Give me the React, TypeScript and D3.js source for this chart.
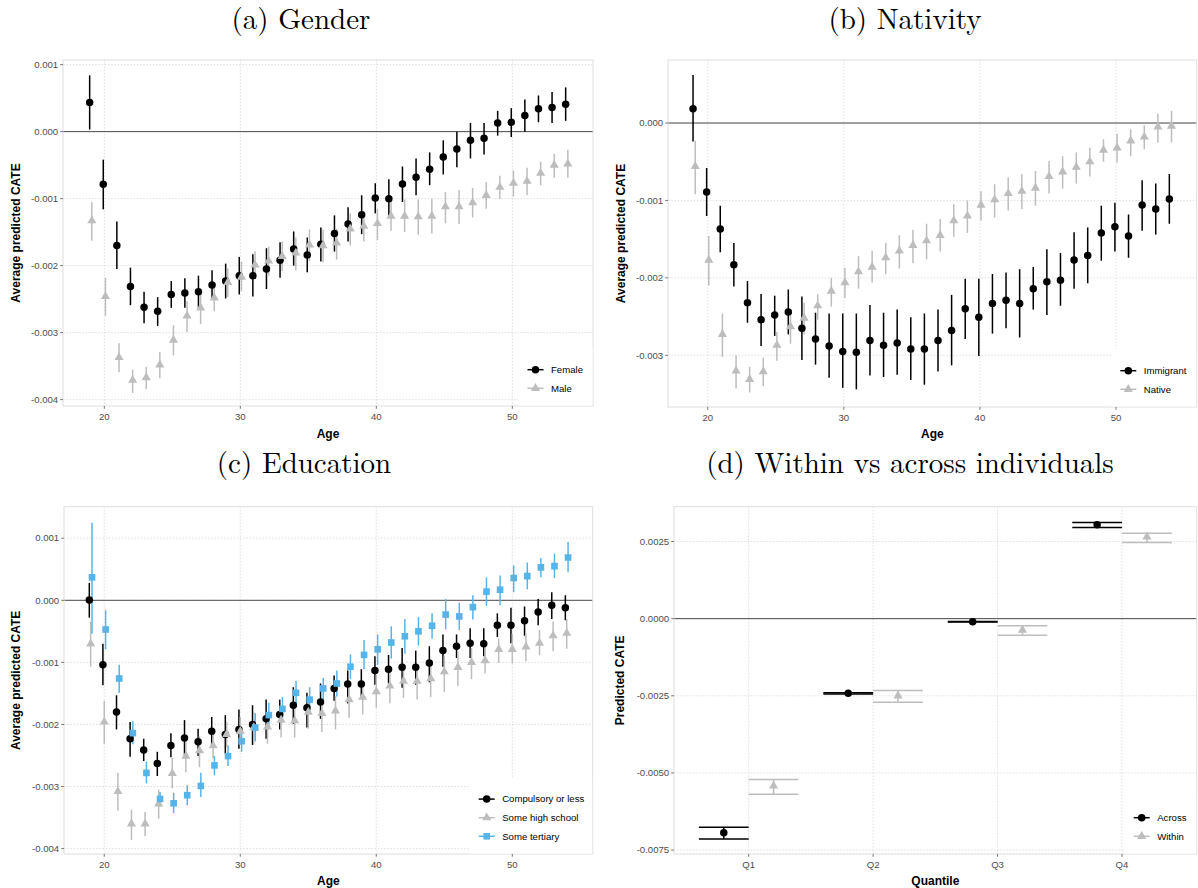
import React from 'react';
import * as d3 from 'd3';

// ---------- DATA ----------
const ages = [19, 20, 21, 22, 23, 24, 25, 26, 27, 28, 29, 30, 31, 32, 33, 34, 35, 36, 37, 38, 39, 40, 41, 42, 43, 44, 45, 46, 47, 48, 49, 50, 51, 52, 53, 54];

// (a) Gender
const femaleEst = [0.000433, -0.000786, -0.0017, -0.00231, -0.00262, -0.00268, -0.00243, -0.00241, -0.00239, -0.00229, -0.00223, -0.00215, -0.00215, -0.00205, -0.00192, -0.00175, -0.00184, -0.00168, -0.00152, -0.00138, -0.00124, -0.00099, -0.001, -0.00078, -0.00068, -0.00056, -0.00038, -0.00026, -0.00013, -0.0001, 0.00013, 0.00014, 0.00024, 0.00034, 0.00036, 0.00041];
const femaleHi = [0.00084, -0.000418, -0.00134, -0.00203, -0.00239, -0.00247, -0.00223, -0.00219, -0.00215, -0.00207, -0.00197, -0.00187, -0.00183, -0.00174, -0.00165, -0.00149, -0.00158, -0.00143, -0.00125, -0.00113, -0.00095, -0.00077, -0.00071, -0.00052, -0.0004, -0.00031, -0.00013, 0.0, 0.00013, 0.00013, 0.00031, 0.00035, 0.00048, 0.00054, 0.00059, 0.00066];
const femaleLo = [0.00003, -0.00116, -0.00205, -0.00259, -0.00286, -0.0029, -0.00263, -0.00263, -0.00263, -0.00249, -0.00249, -0.00243, -0.00246, -0.00235, -0.00218, -0.002, -0.0021, -0.00194, -0.00179, -0.00164, -0.00153, -0.00122, -0.00125, -0.00105, -0.00095, -0.0008, -0.00064, -0.00053, -0.0004, -0.00034, -0.00006, -0.00008, 0.0, 0.00014, 0.00013, 0.00016];
const maleEst = [-0.00133, -0.00246, -0.00337, -0.00371, -0.00367, -0.00348, -0.00311, -0.00275, -0.00263, -0.00248, -0.00225, -0.00217, -0.00199, -0.00193, -0.00186, -0.00181, -0.00169, -0.0017, -0.00166, -0.00145, -0.00141, -0.00137, -0.00126, -0.00126, -0.00127, -0.00126, -0.00112, -0.00112, -0.00106, -0.00095, -0.00083, -0.00077, -0.00074, -0.00062, -0.0005, -0.00048];
const maleHi = [-0.00105, -0.00218, -0.00316, -0.00355, -0.00351, -0.00329, -0.00289, -0.00253, -0.00238, -0.00227, -0.00204, -0.00194, -0.00179, -0.00172, -0.00164, -0.00158, -0.00146, -0.00146, -0.00145, -0.00122, -0.00119, -0.00115, -0.00101, -0.00101, -0.00101, -0.001, -0.0009, -0.00087, -0.00084, -0.00075, -0.00066, -0.00058, -0.00054, -0.00045, -0.00033, -0.00027];
const maleLo = [-0.00163, -0.00275, -0.00359, -0.0039, -0.00384, -0.00368, -0.00334, -0.00299, -0.00287, -0.00268, -0.00247, -0.00238, -0.0022, -0.00215, -0.00208, -0.00207, -0.00193, -0.00195, -0.00191, -0.0017, -0.00164, -0.00162, -0.00148, -0.0015, -0.00154, -0.00152, -0.00137, -0.00138, -0.00128, -0.00115, -0.001, -0.00097, -0.00095, -0.0008, -0.00069, -0.00069];

// (b) Nativity
const immigrantEst = [0.000185, -0.00089, -0.00137, -0.00183, -0.00232, -0.00254, -0.00248, -0.00244, -0.00265, -0.00279, -0.00288, -0.00295, -0.00296, -0.00281, -0.00287, -0.00284, -0.00292, -0.00292, -0.00281, -0.00268, -0.0024, -0.00251, -0.00233, -0.00229, -0.00233, -0.00214, -0.00205, -0.00203, -0.00177, -0.00171, -0.00142, -0.00134, -0.00146, -0.00106, -0.00111, -0.00098];
const immigrantHi = [0.00062, -0.00058, -0.00107, -0.00155, -0.00204, -0.00221, -0.00223, -0.00215, -0.00224, -0.00245, -0.00246, -0.00246, -0.00246, -0.00235, -0.00245, -0.00241, -0.00251, -0.00246, -0.00241, -0.00222, -0.00201, -0.00201, -0.00195, -0.00193, -0.00189, -0.00186, -0.00163, -0.00168, -0.00141, -0.00135, -0.00107, -0.00103, -0.00118, -0.00074, -0.00078, -0.00066];
const immigrantLo = [-0.00024, -0.0012, -0.00167, -0.00211, -0.00258, -0.00288, -0.00275, -0.00273, -0.00306, -0.00312, -0.00329, -0.00342, -0.00344, -0.00326, -0.00328, -0.00325, -0.00332, -0.00338, -0.00321, -0.00313, -0.00279, -0.00301, -0.00272, -0.00265, -0.00277, -0.00241, -0.00248, -0.00236, -0.00214, -0.00207, -0.00178, -0.00166, -0.00174, -0.00139, -0.00144, -0.0013];
const nativeEst = [-0.00056, -0.00177, -0.00273, -0.0032, -0.00331, -0.00321, -0.00287, -0.00263, -0.00252, -0.00236, -0.00217, -0.00206, -0.00192, -0.00186, -0.00174, -0.00165, -0.00158, -0.00152, -0.00145, -0.00126, -0.0012, -0.00106, -0.00099, -0.00091, -0.00088, -0.00084, -0.00069, -0.00063, -0.00057, -0.0005, -0.00035, -0.00032, -0.00023, -0.00018, -0.00005, -0.00004];
const nativeHi = [-0.00023, -0.00146, -0.00246, -0.003, -0.00315, -0.00303, -0.0027, -0.00248, -0.00232, -0.00221, -0.002, -0.00187, -0.00172, -0.00165, -0.00155, -0.00145, -0.00138, -0.0013, -0.00124, -0.00105, -0.001, -0.00088, -0.00079, -0.0007, -0.00066, -0.00062, -0.00049, -0.00043, -0.00038, -0.00032, -0.00021, -0.00014, -0.00008, -0.00003, 0.00012, 0.00016];
const nativeLo = [-0.00092, -0.0021, -0.00302, -0.00343, -0.00348, -0.0034, -0.00307, -0.00285, -0.00273, -0.00254, -0.00237, -0.00226, -0.00214, -0.00206, -0.00195, -0.00188, -0.00181, -0.00176, -0.00166, -0.00147, -0.00142, -0.00126, -0.00122, -0.00113, -0.00111, -0.00107, -0.00091, -0.00085, -0.00078, -0.00069, -0.0005, -0.00051, -0.00043, -0.00034, -0.00025, -0.00025];

// (c) Education
const compulsoryEst = [0.000005, -0.00104, -0.0018, -0.00223, -0.00241, -0.00263, -0.00234, -0.00222, -0.00228, -0.00211, -0.00216, -0.00208, -0.002, -0.00191, -0.00184, -0.00169, -0.00173, -0.00164, -0.00142, -0.00135, -0.00135, -0.00113, -0.00111, -0.00108, -0.00108, -0.00101, -0.00081, -0.00074, -0.00069, -0.0007, -0.0004, -0.0004, -0.00033, -0.00019, -0.00008, -0.00012];
const compulsoryHi = [0.00028, -0.0007, -0.00153, -0.00196, -0.00223, -0.00244, -0.00214, -0.00193, -0.00207, -0.00188, -0.00185, -0.00176, -0.00169, -0.0016, -0.0016, -0.0014, -0.00149, -0.00134, -0.00121, -0.00113, -0.00111, -0.0009, -0.00088, -0.00077, -0.00081, -0.00074, -0.00055, -0.00055, -0.00045, -0.00045, -0.00021, -0.00012, -0.0001, 0.00002, 0.00013, 0.00008];
const compulsoryLo = [-0.00028, -0.00137, -0.00208, -0.00252, -0.00259, -0.00283, -0.00253, -0.00249, -0.00251, -0.00234, -0.00247, -0.00239, -0.00233, -0.00223, -0.00208, -0.00199, -0.00205, -0.00191, -0.00162, -0.00166, -0.00157, -0.00136, -0.00134, -0.00141, -0.00136, -0.00132, -0.00107, -0.00093, -0.00093, -0.0009, -0.00059, -0.00069, -0.00057, -0.0004, -0.0003, -0.00032];
const highSchoolEst = [-0.0007, -0.00196, -0.00308, -0.0036, -0.0036, -0.00328, -0.00279, -0.00251, -0.00242, -0.00234, -0.00216, -0.00211, -0.00205, -0.00204, -0.00193, -0.00194, -0.0018, -0.00182, -0.00178, -0.0016, -0.00156, -0.00147, -0.00138, -0.0013, -0.0013, -0.00126, -0.00115, -0.00108, -0.001, -0.00097, -0.00079, -0.00079, -0.00075, -0.00069, -0.00057, -0.00053];
const highSchoolHi = [-0.00034, -0.00162, -0.00278, -0.00337, -0.00341, -0.00305, -0.00254, -0.00227, -0.00219, -0.00211, -0.00196, -0.00188, -0.0018, -0.0018, -0.00172, -0.00172, -0.0016, -0.0016, -0.00154, -0.00137, -0.00132, -0.0012, -0.00113, -0.00102, -0.00105, -0.00101, -0.00089, -0.00083, -0.00077, -0.00075, -0.00062, -0.00054, -0.00054, -0.00048, -0.00034, -0.0003];
const highSchoolLo = [-0.00107, -0.00231, -0.00339, -0.00386, -0.0038, -0.00352, -0.00303, -0.00277, -0.00269, -0.00255, -0.00236, -0.00233, -0.00231, -0.00231, -0.00221, -0.00221, -0.00207, -0.00212, -0.00208, -0.00189, -0.00184, -0.00173, -0.00166, -0.00157, -0.0016, -0.00156, -0.00148, -0.00138, -0.00127, -0.00118, -0.00101, -0.00102, -0.00098, -0.00088, -0.00082, -0.00078];
const tertiaryEst = [0.00037, -0.00047, -0.00126, -0.00214, -0.00278, -0.0032, -0.00327, -0.00314, -0.00299, -0.00266, -0.00251, -0.00227, -0.00205, -0.00185, -0.00175, -0.00149, -0.0016, -0.00142, -0.00134, -0.00107, -0.00088, -0.00079, -0.00068, -0.00058, -0.0005, -0.00041, -0.00023, -0.00026, -0.00011, 0.00014, 0.00017, 0.00036, 0.00039, 0.00053, 0.00055, 0.00069];
const tertiaryHi = [0.00125, -0.00016, -0.00104, -0.00195, -0.0026, -0.00309, -0.0031, -0.00298, -0.00278, -0.00251, -0.00234, -0.00208, -0.00182, -0.00165, -0.00156, -0.0013, -0.0014, -0.00125, -0.00113, -0.00087, -0.00064, -0.00055, -0.00042, -0.0003, -0.00027, -0.00021, 0.00002, -0.00004, 0.00008, 0.00037, 0.0004, 0.00056, 0.00061, 0.00068, 0.00075, 0.00094];
const tertiaryLo = [-0.00054, -0.00079, -0.00149, -0.00232, -0.00295, -0.00332, -0.00343, -0.0033, -0.00317, -0.00282, -0.00267, -0.00244, -0.00227, -0.00205, -0.00194, -0.00171, -0.0018, -0.00161, -0.00155, -0.00127, -0.00111, -0.00104, -0.00094, -0.00086, -0.00073, -0.00062, -0.00047, -0.00048, -0.00031, -0.00009, -0.00008, 0.00013, 0.00018, 0.00037, 0.00036, 0.00045];

// (d) Within vs across
const quantiles = ['Q1', 'Q2', 'Q3', 'Q4'];
const acrossEst = [-0.00694, -0.00242, -0.0001, 0.00304];
const acrossHi = [-0.00676, -0.0024, -0.00009, 0.00312];
const acrossLo = [-0.00714, -0.00244, -0.00011, 0.00295];
const withinEst = [-0.00542, -0.0025, -0.00037, 0.00265];
const withinHi = [-0.00521, -0.00233, -0.00023, 0.00277];
const withinLo = [-0.00569, -0.00271, -0.00054, 0.00247];

const ageTicks = [20, 30, 40, 50];
const ticksA = [0.001, 0, -0.001, -0.002, -0.003, -0.004];
const ticksB = [0, -0.001, -0.002, -0.003];
const ticksC = [0.001, 0, -0.001, -0.002, -0.003, -0.004];
const ticksD = [0.0025, 0, -0.0025, -0.005, -0.0075];

// ---------- STYLE ----------
const BLACK = '#000000';
const GREY = '#bdbdbd';
const BLUE = '#56B4E9';
const SANS = '"Liberation Sans", Arial, Helvetica, sans-serif';
const SERIF = '"Latin Modern Roman", "CMU Serif", "Liberation Serif", "Times New Roman", serif';

type Shape = 'circle' | 'triangle' | 'square';
interface Series {
  name: string; color: string; shape: Shape; offset: number;
  xs: number[]; est: number[]; lo: number[]; hi: number[];
}

const symbolPath = (shape: Shape) => {
  const t = shape === 'circle' ? d3.symbolCircle : shape === 'triangle' ? d3.symbolTriangle : d3.symbolSquare;
  const size = shape === 'circle' ? 44 : shape === 'triangle' ? 36 : 44;
  return d3.symbol().type(t).size(size)() as string;
};

const fmt = (f: string) => (v: number) => d3.format(f)(v).replace('\u2212', '-');

interface PanelCfg {
  rect: { x: number; y: number; w: number; h: number };
  xDomain: [number, number];
  yDomain: [number, number];
  xTicks: number[];
  xTickLabel: (v: number) => string;
  yTicks: number[];
  yFmt: (v: number) => string;
  series: Series[];
  capHalf: number;
  xTitle: string;
  xTitleDy: number;
  yTitle: string;
  yTitleX: number;
  legendKeyX: number;
  title: string;
  titleX: number;
  titleY: number;
}

function Panel({ c }: { c: PanelCfg }) {
  const { rect } = c;
  const x = d3.scaleLinear().domain(c.xDomain).range([rect.x, rect.x + rect.w]);
  const y = d3.scaleLinear().domain(c.yDomain).range([rect.y + rect.h, rect.y]);
  const right = rect.x + rect.w;
  const bottom = rect.y + rect.h;
  const n = c.series.length;
  const rowGap = 18.6;
  const rowY = (i: number) => bottom - 17.7 - rowGap * (n - 1 - i);
  const legTop = rowY(0) - 22;
  const legLeft = c.legendKeyX - 17.5;
  const clipId = 'clip' + c.title.slice(1, 2);
  return (
    <g>
      <text x={c.titleX} y={c.titleY} textAnchor="middle" fontFamily={SERIF} fontSize={29} fill="#000">{c.title}</text>
      <defs>
        <clipPath id={clipId}><rect x={rect.x} y={rect.y} width={rect.w} height={rect.h} /></clipPath>
      </defs>
      {c.yTicks.map((t) => (
        <line key={'gy' + t} x1={rect.x} x2={right} y1={y(t)} y2={y(t)} stroke="#d4d4d4" strokeWidth={0.7} strokeDasharray="1.6 1.6" />
      ))}
      {c.xTicks.map((t) => (
        <line key={'gx' + t} x1={x(t)} x2={x(t)} y1={rect.y} y2={bottom} stroke="#d4d4d4" strokeWidth={0.7} strokeDasharray="1.6 1.6" />
      ))}
      <line x1={rect.x} x2={right} y1={y(0)} y2={y(0)} stroke="#4a4a4a" strokeWidth={1} />
      <g clipPath={`url(#${clipId})`}>
        {c.series.map((s) => (
          <g key={'eb' + s.name}>
            {s.xs.map((xv, i) => {
              const cx = x(xv + s.offset);
              return (
                <g key={i}>
                  <line x1={cx} x2={cx} y1={y(s.lo[i])} y2={y(s.hi[i])} stroke={s.color} strokeWidth={1.5} />
                  {c.capHalf > 0 && (
                    <>
                      <line x1={x(xv + s.offset - c.capHalf)} x2={x(xv + s.offset + c.capHalf)} y1={y(s.lo[i])} y2={y(s.lo[i])} stroke={s.color} strokeWidth={1.5} />
                      <line x1={x(xv + s.offset - c.capHalf)} x2={x(xv + s.offset + c.capHalf)} y1={y(s.hi[i])} y2={y(s.hi[i])} stroke={s.color} strokeWidth={1.5} />
                    </>
                  )}
                </g>
              );
            })}
          </g>
        ))}
        {c.series.map((s) => (
          <g key={'pt' + s.name}>
            {s.xs.map((xv, i) => (
              <path key={i} d={symbolPath(s.shape)} transform={`translate(${x(xv + s.offset)},${y(s.est[i])})`} fill={s.color} />
            ))}
          </g>
        ))}
      </g>
      <rect x={rect.x} y={rect.y} width={rect.w} height={rect.h} fill="none" stroke="#dedede" strokeWidth={1} />
      {c.yTicks.map((t) => (
        <g key={'yt' + t}>
          <line x1={rect.x - 2.8} x2={rect.x} y1={y(t)} y2={y(t)} stroke="#555" strokeWidth={0.8} />
          <text x={rect.x - 4.8} y={y(t)} dy="0.34em" textAnchor="end" fontFamily={SANS} fontSize={9.6} fill="#4d4d4d">{c.yFmt(t)}</text>
        </g>
      ))}
      {c.xTicks.map((t) => (
        <g key={'xt' + t}>
          <line x1={x(t)} x2={x(t)} y1={bottom} y2={bottom + 2.8} stroke="#555" strokeWidth={0.8} />
          <text x={x(t)} y={bottom + 13.6} textAnchor="middle" fontFamily={SANS} fontSize={9.6} fill="#4d4d4d">{c.xTickLabel(t)}</text>
        </g>
      ))}
      <text x={(rect.x + right) / 2} y={bottom + c.xTitleDy} textAnchor="middle" fontFamily={SANS} fontWeight="bold" fontSize={12} fill="#000">{c.xTitle}</text>
      <text transform={`translate(${c.yTitleX},${(rect.y + bottom) / 2}) rotate(-90)`} textAnchor="middle" fontFamily={SANS} fontWeight="bold" fontSize={12} fill="#000">{c.yTitle}</text>
      <rect x={legLeft} y={legTop} width={right - legLeft - 0.5} height={bottom - legTop - 0.5} fill="#fff" />
      {c.series.map((s, i) => (
        <g key={'lg' + s.name}>
          <line x1={c.legendKeyX - 8} x2={c.legendKeyX + 8} y1={rowY(i)} y2={rowY(i)} stroke={s.color} strokeWidth={1.5} />
          <path d={symbolPath(s.shape)} transform={`translate(${c.legendKeyX},${rowY(i)})`} fill={s.color} />
          <text x={c.legendKeyX + 15.5} y={rowY(i)} dy="0.35em" fontFamily={SANS} fontSize={9.6} fill="#000">{s.name}</text>
        </g>
      ))}
    </g>
  );
}

const qIdx = [1, 2, 3, 4];

const panels: PanelCfg[] = [
  {
    rect: { x: 63, y: 60, w: 530, h: 346 },
    xDomain: [16.96, 55.93], yDomain: [-0.004095, 0.001069],
    xTicks: ageTicks, xTickLabel: (v) => String(v),
    yTicks: ticksA, yFmt: fmt('.3f'),
    series: [
      { name: 'Female', color: BLACK, shape: 'circle', offset: -0.08, xs: ages, est: femaleEst, lo: femaleLo, hi: femaleHi },
      { name: 'Male', color: GREY, shape: 'triangle', offset: 0.08, xs: ages, est: maleEst, lo: maleLo, hi: maleHi },
    ],
    capHalf: 0, xTitle: 'Age', xTitleDy: 31.5, yTitle: 'Average predicted CATE', yTitleX: 20,
    legendKeyX: 535.5, title: '(a) Gender', titleX: 301, titleY: 29,
  },
  {
    rect: { x: 668, y: 60, w: 528.7, h: 347 },
    xDomain: [17.08, 55.93], yDomain: [-0.003668, 0.000814],
    xTicks: ageTicks, xTickLabel: (v) => String(v),
    yTicks: ticksB, yFmt: fmt('.3f'),
    series: [
      { name: 'Immigrant', color: BLACK, shape: 'circle', offset: -0.08, xs: ages, est: immigrantEst, lo: immigrantLo, hi: immigrantHi },
      { name: 'Native', color: GREY, shape: 'triangle', offset: 0.08, xs: ages, est: nativeEst, lo: nativeLo, hi: nativeHi },
    ],
    capHalf: 0, xTitle: 'Age', xTitleDy: 31, yTitle: 'Average predicted CATE', yTitleX: 625,
    legendKeyX: 1128.3, title: '(b) Nativity', titleX: 905, titleY: 29,
  },
  {
    rect: { x: 64, y: 506.7, w: 528.7, h: 347.3 },
    xDomain: [17.04, 55.91], yDomain: [-0.004087, 0.001508],
    xTicks: ageTicks, xTickLabel: (v) => String(v),
    yTicks: ticksC, yFmt: fmt('.3f'),
    series: [
      { name: 'Compulsory or less', color: BLACK, shape: 'circle', offset: -0.1, xs: ages, est: compulsoryEst, lo: compulsoryLo, hi: compulsoryHi },
      { name: 'Some high school', color: GREY, shape: 'triangle', offset: 0, xs: ages, est: highSchoolEst, lo: highSchoolLo, hi: highSchoolHi },
      { name: 'Some tertiary', color: BLUE, shape: 'square', offset: 0.1, xs: ages, est: tertiaryEst, lo: tertiaryLo, hi: tertiaryHi },
    ],
    capHalf: 0, xTitle: 'Age', xTitleDy: 30.5, yTitle: 'Average predicted CATE', yTitleX: 20,
    legendKeyX: 486.7, title: '(c) Education', titleX: 304, titleY: 473,
  },
  {
    rect: { x: 674, y: 506.7, w: 522.7, h: 347.3 },
    xDomain: [0.4, 4.6], yDomain: [-0.007627, 0.003628],
    xTicks: qIdx, xTickLabel: (v) => quantiles[v - 1],
    yTicks: ticksD, yFmt: fmt('.4f'),
    series: [
      { name: 'Across', color: BLACK, shape: 'circle', offset: -0.2, xs: qIdx, est: acrossEst, lo: acrossLo, hi: acrossHi },
      { name: 'Within', color: GREY, shape: 'triangle', offset: 0.2, xs: qIdx, est: withinEst, lo: withinLo, hi: withinHi },
    ],
    capHalf: 0.2, xTitle: 'Quantile', xTitleDy: 30.5, yTitle: 'Predicted CATE', yTitleX: 624,
    legendKeyX: 1141.7, title: '(d) Within vs across individuals', titleX: 910, titleY: 473,
  },
];

export default function App() {
  return (
    <svg width={1198} height={888} viewBox="0 0 1198 888" style={{ position: 'absolute', left: 0, top: 0, display: 'block', background: '#fff' }}>
      <rect x={0} y={0} width={1198} height={888} fill="#fff" />
      {panels.map((p) => (
        <Panel key={p.title} c={p} />
      ))}
    </svg>
  );
}
